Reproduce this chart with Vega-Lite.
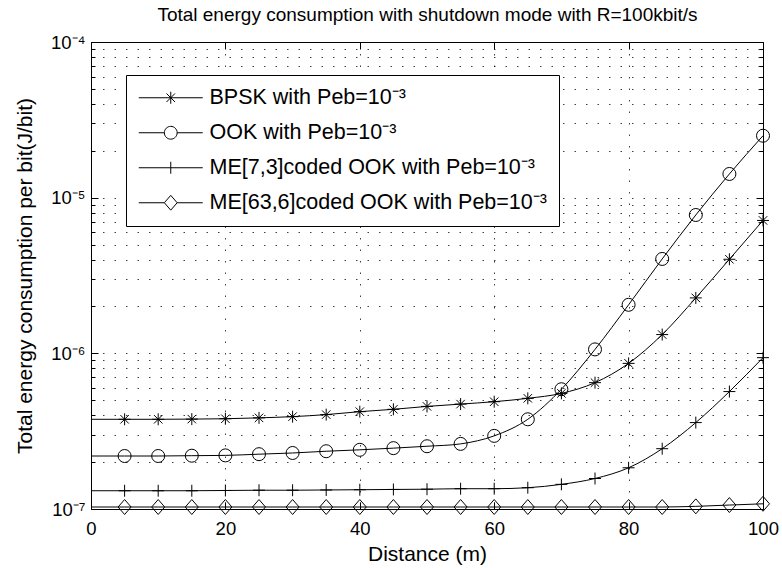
{
  "$schema": "https://vega.github.io/schema/vega-lite/v6.json",
  "width": 672,
  "height": 467,
  "autosize": "none",
  "padding": {"left": 91, "top": 42, "right": 19, "bottom": 59},
  "background": "white",
  "config": {
    "font": "Liberation Sans",
    "view": {"stroke": null},
    "axis": {
      "domainColor": "#000", "tickColor": "#000", "labelColor": "#000", "titleColor": "#000",
      "labelFont": "Liberation Sans", "titleFont": "Liberation Sans", "titleFontWeight": "normal",
      "gridColor": "#000", "gridDash": [1.5, 10], "gridOpacity": 0.75, "gridWidth": 1,
      "domainWidth": 1, "tickWidth": 1
    }
  },
  "data": {"values": [
    {"s": "BPSK", "d": 0, "v": 3.77e-7}, {"s": "BPSK", "d": 5, "v": 3.77e-7}, {"s": "BPSK", "d": 10, "v": 3.77e-7},
    {"s": "BPSK", "d": 15, "v": 3.78e-7}, {"s": "BPSK", "d": 20, "v": 3.80e-7}, {"s": "BPSK", "d": 25, "v": 3.85e-7},
    {"s": "BPSK", "d": 30, "v": 3.92e-7}, {"s": "BPSK", "d": 35, "v": 4.04e-7}, {"s": "BPSK", "d": 40, "v": 4.22e-7},
    {"s": "BPSK", "d": 45, "v": 4.37e-7}, {"s": "BPSK", "d": 50, "v": 4.56e-7}, {"s": "BPSK", "d": 55, "v": 4.72e-7},
    {"s": "BPSK", "d": 60, "v": 4.89e-7}, {"s": "BPSK", "d": 65, "v": 5.14e-7}, {"s": "BPSK", "d": 70, "v": 5.53e-7},
    {"s": "BPSK", "d": 75, "v": 6.48e-7}, {"s": "BPSK", "d": 80, "v": 8.62e-7}, {"s": "BPSK", "d": 85, "v": 1.32e-6},
    {"s": "BPSK", "d": 90, "v": 2.27e-6}, {"s": "BPSK", "d": 95, "v": 4.02e-6}, {"s": "BPSK", "d": 100, "v": 7.14e-6},
    {"s": "OOK", "d": 0, "v": 2.19e-7}, {"s": "OOK", "d": 5, "v": 2.19e-7}, {"s": "OOK", "d": 10, "v": 2.19e-7},
    {"s": "OOK", "d": 15, "v": 2.20e-7}, {"s": "OOK", "d": 20, "v": 2.21e-7}, {"s": "OOK", "d": 25, "v": 2.25e-7},
    {"s": "OOK", "d": 30, "v": 2.29e-7}, {"s": "OOK", "d": 35, "v": 2.35e-7}, {"s": "OOK", "d": 40, "v": 2.40e-7},
    {"s": "OOK", "d": 45, "v": 2.46e-7}, {"s": "OOK", "d": 50, "v": 2.53e-7}, {"s": "OOK", "d": 55, "v": 2.62e-7},
    {"s": "OOK", "d": 60, "v": 2.95e-7}, {"s": "OOK", "d": 65, "v": 3.77e-7}, {"s": "OOK", "d": 70, "v": 5.88e-7},
    {"s": "OOK", "d": 75, "v": 1.06e-6}, {"s": "OOK", "d": 80, "v": 2.05e-6}, {"s": "OOK", "d": 85, "v": 4.04e-6},
    {"s": "OOK", "d": 90, "v": 7.74e-6}, {"s": "OOK", "d": 95, "v": 1.42e-5}, {"s": "OOK", "d": 100, "v": 2.50e-5},
    {"s": "ME73", "d": 0, "v": 1.31e-7}, {"s": "ME73", "d": 5, "v": 1.31e-7}, {"s": "ME73", "d": 10, "v": 1.31e-7},
    {"s": "ME73", "d": 15, "v": 1.31e-7}, {"s": "ME73", "d": 20, "v": 1.315e-7}, {"s": "ME73", "d": 25, "v": 1.32e-7},
    {"s": "ME73", "d": 30, "v": 1.32e-7}, {"s": "ME73", "d": 35, "v": 1.325e-7}, {"s": "ME73", "d": 40, "v": 1.33e-7},
    {"s": "ME73", "d": 45, "v": 1.335e-7}, {"s": "ME73", "d": 50, "v": 1.34e-7}, {"s": "ME73", "d": 55, "v": 1.35e-7},
    {"s": "ME73", "d": 60, "v": 1.35e-7}, {"s": "ME73", "d": 65, "v": 1.37e-7}, {"s": "ME73", "d": 70, "v": 1.44e-7},
    {"s": "ME73", "d": 75, "v": 1.57e-7}, {"s": "ME73", "d": 80, "v": 1.84e-7}, {"s": "ME73", "d": 85, "v": 2.44e-7},
    {"s": "ME73", "d": 90, "v": 3.59e-7}, {"s": "ME73", "d": 95, "v": 5.68e-7}, {"s": "ME73", "d": 100, "v": 9.38e-7},
    {"s": "ME636", "d": 0, "v": 1.03e-7}, {"s": "ME636", "d": 5, "v": 1.03e-7}, {"s": "ME636", "d": 10, "v": 1.03e-7},
    {"s": "ME636", "d": 15, "v": 1.03e-7}, {"s": "ME636", "d": 20, "v": 1.03e-7}, {"s": "ME636", "d": 25, "v": 1.03e-7},
    {"s": "ME636", "d": 30, "v": 1.03e-7}, {"s": "ME636", "d": 35, "v": 1.03e-7}, {"s": "ME636", "d": 40, "v": 1.03e-7},
    {"s": "ME636", "d": 45, "v": 1.03e-7}, {"s": "ME636", "d": 50, "v": 1.03e-7}, {"s": "ME636", "d": 55, "v": 1.03e-7},
    {"s": "ME636", "d": 60, "v": 1.03e-7}, {"s": "ME636", "d": 65, "v": 1.03e-7}, {"s": "ME636", "d": 70, "v": 1.03e-7},
    {"s": "ME636", "d": 75, "v": 1.03e-7}, {"s": "ME636", "d": 80, "v": 1.03e-7}, {"s": "ME636", "d": 85, "v": 1.03e-7},
    {"s": "ME636", "d": 90, "v": 1.04e-7}, {"s": "ME636", "d": 95, "v": 1.06e-7}, {"s": "ME636", "d": 100, "v": 1.08e-7}
  ]},
  "layer": [
    {
      "mark": {"type": "line", "stroke": "#000", "strokeWidth": 1, "interpolate": "monotone"},
      "encoding": {
        "x": {"field": "d", "type": "quantitative", "scale": {"domain": [0, 100], "nice": false},
          "axis": {"orient": "bottom", "values": [0, 20, 40, 60, 80, 100], "format": "d",
            "title": "Distance (m)", "titleFontSize": 21, "titleX": 336, "titleY": 51, "titleBaseline": "alphabetic",
            "labelFontSize": 18.5, "labelPadding": 17, "tickSize": -7, "labelFlush": false, "labelBound": false,
            "labelOverlap": false, "grid": true}},
        "y": {"field": "v", "type": "quantitative", "scale": {"type": "log", "domain": [1e-7, 1e-4], "nice": false},
          "axis": {"orient": "left",
            "values": [1e-7, 2e-7, 3e-7, 4e-7, 5e-7, 6e-7, 7e-7, 8e-7, 9e-7, 1e-6, 2e-6, 3e-6, 4e-6, 5e-6, 6e-6, 7e-6, 8e-6, 9e-6, 1e-5, 2e-5, 3e-5, 4e-5, 5e-5, 6e-5, 7e-5, 8e-5, 9e-5, 1e-4],
            "labelExpr": "abs(log(datum.value)/LN10 - round(log(datum.value)/LN10)) < 0.01 ? (round(log(datum.value)/LN10) == -4 ? '10⁻⁴' : round(log(datum.value)/LN10) == -5 ? '10⁻⁵' : round(log(datum.value)/LN10) == -6 ? '10⁻⁶' : '10⁻⁷') : ''",
            "labelFontSize": 18.5, "labelPadding": 13, "labelOverlap": false, "labelBound": false,
            "tickSize": {"condition": {"test": "abs(log(datum.value)/LN10 - round(log(datum.value)/LN10)) < 0.01", "value": -7}, "value": -4},
            "grid": true,
            "title": "Total energy consumption per bit(J/bit)", "titleFontSize": 21, "titleX": -60, "titleY": 233.5,
            "titleBaseline": "alphabetic", "titleAngle": 270}},
        "detail": {"field": "s"}
      }
    },
    {
      "transform": [{"filter": "datum.d > 0"}],
      "mark": {"type": "point", "filled": false, "stroke": "#000", "strokeWidth": 1, "size": 169, "opacity": 1},
      "encoding": {
        "x": {"field": "d", "type": "quantitative",
          "axis": {"orient": "top", "values": [0, 20, 40, 60, 80, 100], "labels": false, "grid": false, "tickSize": -7,
            "title": "Total energy consumption with shutdown mode with R=100kbit/s", "titleFontSize": 19,
            "titleX": 336, "titleY": -22, "titleBaseline": "alphabetic", "titleAlign": "center"}},
        "y": {"field": "v", "type": "quantitative",
          "axis": {"orient": "right",
            "values": [1e-7, 2e-7, 3e-7, 4e-7, 5e-7, 6e-7, 7e-7, 8e-7, 9e-7, 1e-6, 2e-6, 3e-6, 4e-6, 5e-6, 6e-6, 7e-6, 8e-6, 9e-6, 1e-5, 2e-5, 3e-5, 4e-5, 5e-5, 6e-5, 7e-5, 8e-5, 9e-5, 1e-4],
            "labels": false, "title": null, "grid": false,
            "tickSize": {"condition": {"test": "abs(log(datum.value)/LN10 - round(log(datum.value)/LN10)) < 0.01", "value": -7}, "value": -4}}},
        "shape": {"field": "s", "type": "nominal",
          "scale": {"domain": ["BPSK", "OOK", "ME73", "ME636"],
            "range": ["M-0.92,0H0.92M0,-0.92V0.92M-0.65,-0.65L0.65,0.65M-0.65,0.65L0.65,-0.65", "circle", "M-0.92,0H0.92M0,-0.92V0.92", "M0,-1.15L1,0L0,1.15L-1,0Z"]},
          "legend": null
        }
      }
    },
    {
      "transform": [{"filter": "datum.d < 0"}],
      "mark": {"type": "point", "filled": false, "stroke": "#000", "strokeWidth": 1, "size": 64, "opacity": 1},
      "encoding": {
        "shape": {"field": "s", "type": "nominal",
          "scale": {"domain": ["BPSK", "OOK", "ME73", "ME636"],
            "range": [
              "M-8,0H8M0,-1.5V1.5M-1.06,-1.06L1.06,1.06M-1.06,1.06L1.06,-1.06",
              "M-8,0H-1.6M1.6,0H8M-1.6,0C-1.6,-0.884 -0.884,-1.6 0,-1.6C0.884,-1.6 1.6,-0.884 1.6,0C1.6,0.884 0.884,1.6 0,1.6C-0.884,1.6 -1.6,0.884 -1.6,0Z",
              "M-8,0H8M0,-1.5V1.5",
              "M-8,0H-1.6M1.6,0H8M0,-1.85L1.6,0L0,1.85L-1.6,0Z"
            ]},
          "legend": {
            "orient": "none", "legendX": 35, "legendY": 33, "title": null,
            "labelExpr": "datum.value == 'BPSK' ? 'BPSK with Peb=10⁻³' : datum.value == 'OOK' ? 'OOK with Peb=10⁻³' : datum.value == 'ME73' ? 'ME[7,3]coded OOK with Peb=10⁻³' : 'ME[63,6]coded OOK with Peb=10⁻³'",
            "labelFontSize": 21.5, "labelFont": "Liberation Sans", "labelColor": "#000", "labelLimit": 600,
            "symbolSize": 64, "symbolStrokeColor": "#000", "symbolStrokeWidth": 1, "symbolFillColor": "transparent", "symbolOpacity": 1,
            "symbolOffset": 22, "labelOffset": 28, "rowPadding": 12, "padding": 12,
            "strokeColor": "#000", "fillColor": "#fff", "cornerRadius": 0
          }
        }
      }
    }
  ],
  "resolve": {
    "axis": {"x": "independent", "y": "independent"},
    "scale": {"shape": "independent"},
    "legend": {"shape": "independent"}
  }
}
